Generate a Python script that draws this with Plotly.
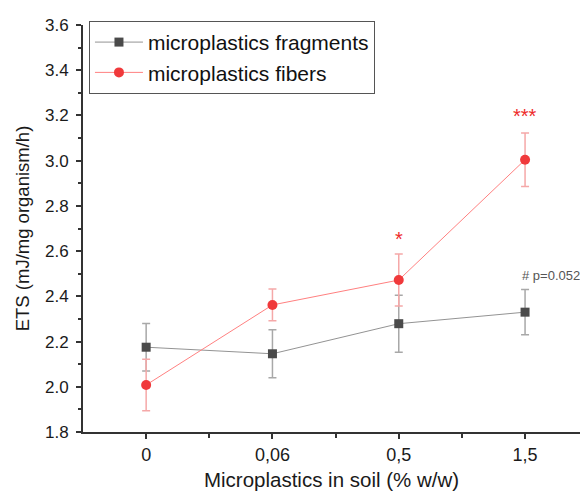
import plotly.graph_objects as go

# Soil microplastic concentrations (% w/w) and ETS activity measurements
categories = ["0", "0,06", "0,5", "1,5"]
fragments_mean = [2.175, 2.146, 2.279, 2.330]
fragments_err = [0.105, 0.106, 0.126, 0.100]
fibers_mean = [2.008, 2.362, 2.472, 3.004]
fibers_err = [0.114, 0.070, 0.115, 0.118]
sig_labels = [("0,5", 2.675, "*"), ("1,5", 3.22, "***")]
p_note = ("1,5", 2.49, "# p=0.052")

xpos = list(range(len(categories)))
idx = {c: i for i, c in enumerate(categories)}
FONT = "Liberation Sans, Arial, sans-serif"
TEXT = "#1a1a1a"

fig = go.Figure()
fig.add_trace(go.Scatter(
    x=xpos, y=fragments_mean, name="microplastics fragments",
    mode="lines+markers",
    line=dict(color="#939393", width=1),
    marker=dict(symbol="square", size=9, color="#4a4a4a"),
    error_y=dict(type="data", array=fragments_err, color="#a8a8a8",
                 thickness=1.5, width=4),
))
fig.add_trace(go.Scatter(
    x=xpos, y=fibers_mean, name="microplastics fibers",
    mode="lines+markers",
    line=dict(color="#ff8080", width=1),
    marker=dict(symbol="circle", size=10, color="#f0393b"),
    error_y=dict(type="data", array=fibers_err, color="#f5a8a8",
                 thickness=1.5, width=4),
))

for cat, yv, txt in sig_labels:
    fig.add_annotation(x=idx[cat], y=yv, text=txt, showarrow=False,
                       font=dict(family=FONT, size=20, color="#ee2b2b"),
                       xanchor="center", yanchor="middle", yshift=-5)
fig.add_annotation(x=idx[p_note[0]], y=p_note[1], text=p_note[2], showarrow=False,
                   font=dict(family=FONT, size=13, color="#555555"),
                   xanchor="left", yanchor="middle", xshift=-5)

fig.update_layout(
    width=580, height=495,
    margin=dict(l=83, r=0, t=25, b=63),
    paper_bgcolor="white", plot_bgcolor="white",
    font=dict(family=FONT, color=TEXT),
    showlegend=True,
    legend=dict(x=0.012, y=1.01, xanchor="left", yanchor="top",
                bordercolor="#555555", borderwidth=1,
                font=dict(family=FONT, size=21, color="#111111"),
                tracegroupgap=0, itemwidth=48),
    xaxis=dict(
        range=[-0.5, 3.435], tickvals=xpos, ticktext=categories,
        showline=True, linecolor="#333333", linewidth=2,
        ticks="outside", ticklen=5, tickwidth=1.5, tickcolor="#333333",
        minor=dict(tickvals=[i + 0.5 for i in xpos], ticks="outside",
                   ticklen=4, tickwidth=1.5, tickcolor="#333333"),
        showgrid=False, zeroline=False,
        tickfont=dict(family=FONT, size=18, color=TEXT),
        title=dict(text="Microplastics in soil (% w/w)", standoff=9,
                   font=dict(family=FONT, size=20.5, color=TEXT)),
    ),
    yaxis=dict(
        range=[1.8, 3.6], dtick=0.2, tickformat=".1f",
        showline=True, linecolor="#333333", linewidth=2,
        ticks="outside", ticklen=5, tickwidth=1.5, tickcolor="#333333",
        minor=dict(dtick=0.1, ticks="outside", ticklen=3, tickwidth=1.5,
                   tickcolor="#333333"),
        showgrid=False, zeroline=False,
        tickfont=dict(family=FONT, size=17, color=TEXT),
        ticklabelstandoff=4,
        title=dict(text="ETS (mJ/mg organism/h)", standoff=10,
                   font=dict(family=FONT, size=18.5, color=TEXT)),
    ),
)

fig.write_html("out.html")
